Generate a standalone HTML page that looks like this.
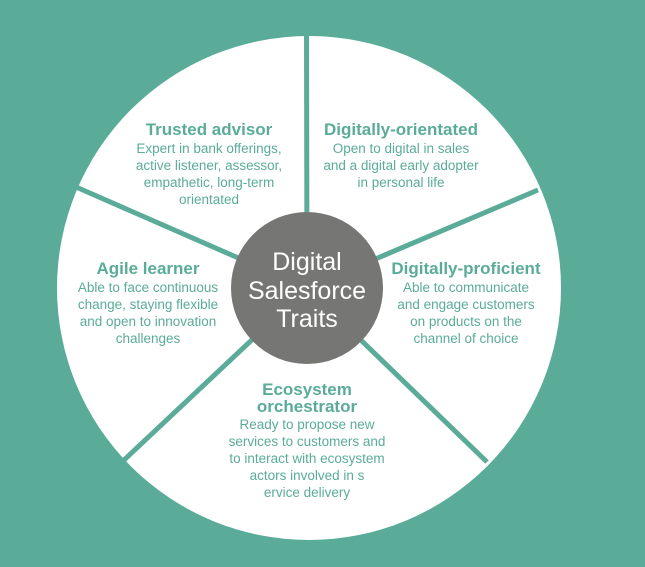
<!DOCTYPE html>
<html><head><meta charset="utf-8"><style>
html,body{margin:0;padding:0;background:#5aac99;}
svg{display:block}
.t{font-family:"Liberation Sans",sans-serif;font-weight:bold;font-size:17px;fill:#5aac99;text-anchor:middle}
.b{font-family:"Liberation Sans",sans-serif;font-size:13.5px;fill:#5aac99;text-anchor:middle}
.c{font-family:"Liberation Sans",sans-serif;font-size:25px;fill:#fff;text-anchor:middle}
</style></head><body>
<svg width="645" height="567" viewBox="0 0 645 567">
<rect width="645" height="567" fill="#5aac99"/>
<circle cx="309" cy="288" r="252" fill="#fff"/>
<g stroke="#5aac99" stroke-width="5">
<line x1="307" y1="288" x2="306.5" y2="30"/>
<line x1="307" y1="288" x2="76" y2="187"/>
<line x1="307" y1="288" x2="538" y2="190"/>
<line x1="307" y1="288" x2="487" y2="462"/>
<line x1="307" y1="288" x2="123" y2="461"/>
</g>
<circle cx="307" cy="288" r="76" fill="#767775"/>
<text class="c" x="307" y="270">Digital</text>
<text class="c" x="307" y="299">Salesforce</text>
<text class="c" x="307" y="327">Traits</text>

<text class="t" x="209" y="135">Trusted advisor</text>
<text class="b" x="209" y="153">Expert in bank offerings,</text>
<text class="b" x="209" y="170">active listener, assessor,</text>
<text class="b" x="209" y="187">empathetic, long-term</text>
<text class="b" x="209" y="204">orientated</text>

<text class="t" x="401" y="135">Digitally-orientated</text>
<text class="b" x="401" y="153">Open to digital in sales</text>
<text class="b" x="401" y="170">and a digital early adopter</text>
<text class="b" x="401" y="187">in personal life</text>

<text class="t" x="148" y="274">Agile learner</text>
<text class="b" x="148" y="292">Able to face continuous</text>
<text class="b" x="148" y="309">change, staying flexible</text>
<text class="b" x="148" y="326">and open to innovation</text>
<text class="b" x="148" y="343">challenges</text>

<text class="t" x="466" y="274">Digitally-proficient</text>
<text class="b" x="466" y="292">Able to communicate</text>
<text class="b" x="466" y="309">and engage customers</text>
<text class="b" x="466" y="326">on products on the</text>
<text class="b" x="466" y="343">channel of choice</text>

<text class="t" x="307" y="395">Ecosystem</text>
<text class="t" x="307" y="412">orchestrator</text>
<text class="b" x="307" y="429">Ready to propose new</text>
<text class="b" x="307" y="446">services to customers and</text>
<text class="b" x="307" y="463">to interact with ecosystem</text>
<text class="b" x="307" y="480">actors involved in s</text>
<text class="b" x="307" y="497">ervice delivery</text>
</svg>
</body></html>
